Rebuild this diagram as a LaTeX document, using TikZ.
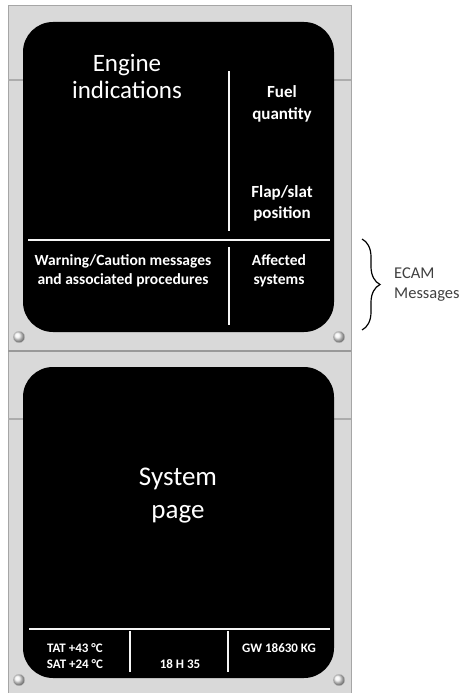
\documentclass[tikz,border=0pt]{standalone}
\usepackage{fontspec}
\setmainfont{Carlito}
\usetikzlibrary{decorations.pathreplacing}
\tikzstyle{bezel} = [rectangle, 
fill=gray!30, 
draw=gray!70, 
line width=1pt]
\tikzstyle{screen} = [fill=black, 
rounded corners=30pt]
\tikzstyle{groove} = [draw=gray!65, 
line width=2pt]
\tikzstyle{split} = [draw=gray!80, 
line width=1.5pt]
\tikzstyle{divider} = [draw=white!92!gray, 
line width=1.6pt]
\tikzstyle{screw} = [circle, 
minimum size=11.5pt, 
inner sep=0pt, 
ball color=gray!10, 
draw=gray!45, 
line width=0.3pt]
\tikzstyle{coord} = [coordinate]
\tikzstyle{bigtext} = [text=white, 
align=center, 
inner sep=0pt]
\tikzstyle{smalltext} = [text=white, 
align=center, 
inner sep=0pt, 
font=\bfseries]
\tikzstyle{note} = [text=black!75, 
align=left, 
anchor=west, 
inner sep=0pt, 
font=\fontsize{16.5}{20}\selectfont]
\tikzstyle{brace} = [decorate, 
decoration={brace, amplitude=18pt}, 
line width=1.2pt, 
black]

\begin{document}
\begin{tikzpicture} [x=1pt, y=-1pt, node distance=20pt]
		\useasboundingbox (0,0) rectangle (461,693);
		% bezel of both displays
		\draw [bezel] (8,6) rectangle (351,700);
		\draw [groove] (8,80) -- (351,80);
		\draw [groove] (8,419) -- (351,419);
		\draw [split] (8,351) -- (351,351);
		\fill [screen] (23,22) rectangle (334,332);
		\fill [screen] (23,367) rectangle (334,678);
		\node (s1) [screw] at (19,337) {};
		\node (s2) [screw] at (339,337) {};
		\node (s3) [screw] at (19,680) {};
		\node (s4) [screw] at (339,680) {};
		
		% upper display
		\node (c1) [coord] at (229,71) {};
		\node (c2) [coord] at (229,231) {};
		\node (c3) [coord] at (28,240) {};
		\node (c4) [coord] at (330,240) {};
		\node (c5) [coord] at (229,247) {};
		\node (c6) [coord] at (229,325) {};
		\draw [divider] (c1) -- (c2);
		\draw [divider] (c3) -- (c4);
		\draw [divider] (c5) -- (c6);
		\node (engine) [bigtext, font=\fontsize{25}{27}\selectfont] at (127,76) {Engine\\indications};
		\node (fuel) [smalltext, font=\bfseries\fontsize{17}{22}\selectfont] at (282,104) {Fuel\\quantity};
		\node (flap) [smalltext, font=\bfseries\fontsize{17}{21}\selectfont, below of=fuel, node distance=99.5pt] {Flap/slat\\position};
		\node (warn) [smalltext, font=\bfseries\fontsize{15.5}{19}\selectfont] at (123,271) {Warning/Caution messages\\and associated procedures};
		\node (affected) [smalltext, font=\bfseries\fontsize{15.5}{19}\selectfont] at (279,271) {Affected\\systems};
		
		% ECAM messages brace
		\node (b1) [coord] at (362,239) {};
		\node (b2) [coord] at (362,330) {};
		\draw [brace] (b1) -- (b2);
		\node (ecam) [note] at (394,285) {ECAM\\Messages};
		
		% lower display
		\node (d1) [coord] at (29,629) {};
		\node (d2) [coord] at (330,629) {};
		\node (d3) [coord] at (130,631) {};
		\node (d4) [coord] at (130,672) {};
		\node (d5) [coord] at (228,631) {};
		\node (d6) [coord] at (228,672) {};
		\draw [divider] (d1) -- (d2);
		\draw [divider] (d3) -- (d4);
		\draw [divider] (d5) -- (d6);
		\node (system) [bigtext, font=\fontsize{27}{33}\selectfont] at (178,496) {System\\page};
		\node (tat) [smalltext, font=\bfseries\fontsize{13}{16}\selectfont] at (75,656) {TAT +43 °C\\SAT +24 °C};
		\node (time) [smalltext, font=\bfseries\fontsize{13}{16}\selectfont] at (180,664) {18 H 35};
		\node (gw) [smalltext, font=\bfseries\fontsize{13}{16}\selectfont] at (279,648) {GW 18630 KG};
	\end{tikzpicture}
\end{document}
